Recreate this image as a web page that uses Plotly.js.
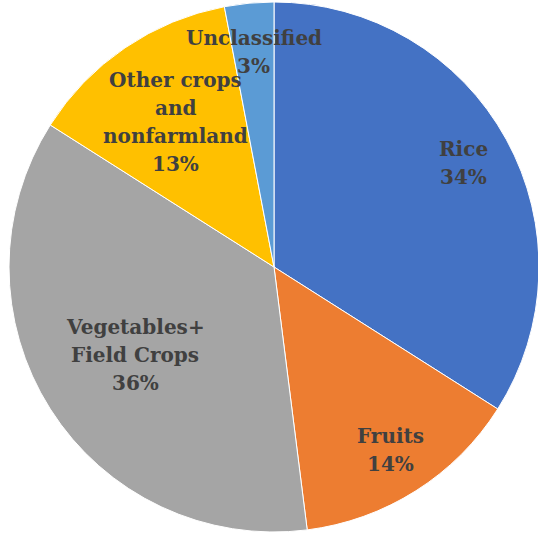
<!DOCTYPE html>
<html>
<head>
<meta charset="utf-8">
<script src="https://cdn.plot.ly/plotly-3.0.1.min.js"></script>
<style>
html,body{margin:0;padding:0;overflow:hidden;background:#fff;}
#chart{width:540px;height:537px;}
</style>
</head>
<body>
<div id="chart"></div>
<script>
var categories = ["Rice", "Fruits", "Vegetables+|Field Crops", "Other crops|and|nonfarmland", "Unclassified"];
var values = [34, 14, 36, 13, 3];
var colors = ["#4472C4", "#ED7D31", "#A5A5A5", "#FFC000", "#5B9BD5"];
var labelRadius = [0.815, 0.82, 0.62, 0.66, 0.815];

var W = 540, H = 537;
var M = {l: 9, r: 1, t: 2, b: 5};
var plotW = W - M.l - M.r, plotH = H - M.t - M.b;
var R = Math.min(plotW, plotH) / 2;
var cx = M.l + plotW / 2, cy = M.t + plotH / 2;
var lineGap = 28;

var total = values.reduce(function(a, b){ return a + b; }, 0);
var annotations = [];
var cum = 0;
for (var i = 0; i < values.length; i++) {
  var mid = (cum + values[i] / 2) / total * 2 * Math.PI;
  cum += values[i];
  var px = cx + labelRadius[i] * R * Math.sin(mid);
  var py = cy - labelRadius[i] * R * Math.cos(mid);
  var lines = categories[i].split("|").concat([Math.round(values[i] / total * 100) + "%"]);
  for (var j = 0; j < lines.length; j++) {
    var ly = py + (j - (lines.length - 1) / 2) * lineGap;
    annotations.push({
      x: (px - M.l) / plotW,
      y: 1 - (ly - M.t) / plotH,
      xref: "paper", yref: "paper",
      xanchor: "center", yanchor: "middle",
      showarrow: false, align: "center", borderpad: 0,
      text: "<b>" + lines[j] + "</b>",
      font: {family: "DejaVu Serif", size: 20, color: "#404040"}
    });
  }
}

var data = [{
  type: "pie",
  values: values,
  labels: categories,
  sort: false,
  direction: "clockwise",
  rotation: 0,
  textinfo: "none",
  hoverinfo: "none",
  marker: {colors: colors, line: {color: "#ffffff", width: 1}},
  showlegend: false
}];

var layout = {
  width: W, height: H,
  margin: M,
  paper_bgcolor: "#ffffff",
  showlegend: false,
  annotations: annotations
};

Plotly.newPlot("chart", data, layout, {displayModeBar: false, staticPlot: true});
</script>
</body>
</html>
